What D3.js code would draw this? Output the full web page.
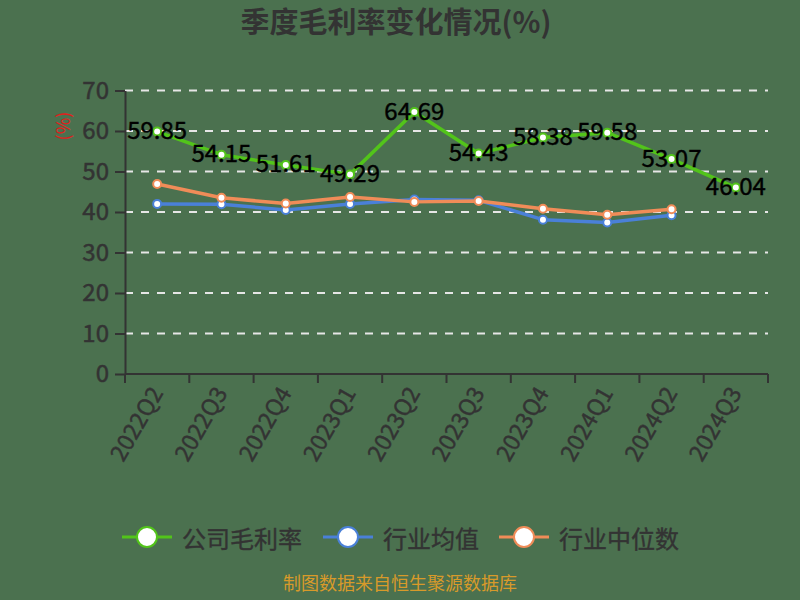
<!DOCTYPE html>
<html>
<head>
<meta charset="utf-8">
<script src="https://cdn.jsdelivr.net/npm/d3@7"></script>
<style>
  body { margin: 0; background: #4b714f; }
  svg { display: block; }
</style>
</head>
<body>
<svg width="800" height="600"></svg>
<script>
let quarters = ["2022Q2", "2022Q3", "2022Q4", "2023Q1", "2023Q2", "2023Q3", "2023Q4", "2024Q1", "2024Q2", "2024Q3"];
let company_margin = [59.85, 54.15, 51.61, 49.29, 64.69, 54.43, 58.38, 59.58, 53.07, 46.04];
let industry_mean = [42.0, 41.9, 40.5, 42.0, 43.1, 42.9, 38.1, 37.4, 39.2];
let industry_median = [46.9, 43.5, 42.1, 43.7, 42.5, 42.7, 40.8, 39.3, 40.7];
let y_ticks = [0, 10, 20, 30, 40, 50, 60, 70];
let series_names = ["公司毛利率", "行业均值", "行业中位数"];
let series_colors = ["#52c41a", "#4a80d8", "#f08c58"];

var svg = d3.select("svg");
var font = "'Noto Sans CJK SC', 'Noto Sans', sans-serif";

svg.append("rect")
  .attr("width", 800).attr("height", 600)
  .attr("fill", "#4b714f");

var x_axis = d3.scaleBand().domain(quarters).range([125, 768]);
var y_axis = d3.scaleLinear().domain([0, 70]).range([374, 90.5]);

// title
svg.append("text")
  .attr("x", 396).attr("y", 33)
  .attr("text-anchor", "middle")
  .attr("font-family", font)
  .attr("font-size", "29px")
  .attr("font-weight", "bold")
  .attr("fill", "#333")
  .text("季度毛利率变化情况(%)");

// grid lines
svg.append("g")
  .selectAll("line")
  .data(y_ticks.filter(d => d > 0))
  .enter().append("line")
    .attr("x1", 125).attr("x2", 768)
    .attr("y1", d => y_axis(d)).attr("y2", d => y_axis(d))
    .attr("stroke", "#e6e6e6")
    .attr("stroke-width", 2)
    .attr("stroke-dasharray", "8,8");

// y axis
var gy = svg.append("g")
  .attr("transform", "translate(125,0)")
  .call(d3.axisLeft(y_axis).tickValues(y_ticks).tickSize(10).tickPadding(6).tickSizeOuter(0));
gy.select(".domain").attr("stroke", "#333").attr("stroke-width", 2);
gy.selectAll(".tick line").attr("stroke", "#333").attr("stroke-width", 2);
gy.selectAll(".tick text")
  .attr("font-family", font)
  .attr("font-size", "24px")
  .attr("fill", "#333")
  .attr("stroke", "#333")
  .attr("stroke-width", 0.5);

// unit label
svg.append("text")
  .attr("transform", "translate(62,126) rotate(-90)")
  .attr("text-anchor", "middle")
  .attr("dominant-baseline", "central")
  .attr("font-family", font)
  .attr("font-size", "18px")
  .attr("fill", "#e0201c")
  .text("(%)");

// x axis
var gx = svg.append("g")
  .attr("transform", "translate(0,374)");
gx.append("line")
  .attr("x1", 125).attr("x2", 768)
  .attr("stroke", "#333").attr("stroke-width", 2);
gx.selectAll(".xtick")
  .data(quarters.concat(["end"]))
  .enter().append("line")
    .attr("x1", (d, i) => i < quarters.length ? x_axis(d) : x_axis.range()[1])
    .attr("x2", (d, i) => i < quarters.length ? x_axis(d) : x_axis.range()[1])
    .attr("y1", 0).attr("y2", 9)
    .attr("stroke", "#333").attr("stroke-width", 2);
gx.selectAll(".xlabel")
  .data(quarters)
  .enter().append("text")
    .attr("transform", d => "translate(" + (x_axis(d) + x_axis.bandwidth() / 2 - 2) + ",14) rotate(-60)")
    .attr("text-anchor", "end")
    .attr("dominant-baseline", "central")
    .attr("font-family", font)
    .attr("font-size", "23px")
    .attr("fill", "#333")
    .attr("stroke", "#333")
    .attr("stroke-width", 0.4)
    .text(d => d);

function cx(i) { return x_axis(quarters[i]) + x_axis.bandwidth() / 2; }

var line = d3.line()
  .x((d, i) => cx(i))
  .y(d => y_axis(d));

function draw_series(values, color) {
  svg.append("path")
    .datum(values)
    .attr("d", line)
    .attr("fill", "none")
    .attr("stroke", color)
    .attr("stroke-width", 3.5)
    .attr("stroke-linejoin", "round");
  svg.append("g")
    .selectAll("circle")
    .data(values)
    .enter().append("circle")
      .attr("cx", (d, i) => cx(i))
      .attr("cy", d => y_axis(d))
      .attr("r", 4)
      .attr("fill", "#fff")
      .attr("stroke", color)
      .attr("stroke-width", 2);
}

draw_series(industry_mean, series_colors[1]);
draw_series(industry_median, series_colors[2]);
draw_series(company_margin, series_colors[0]);

// value labels
svg.append("g")
  .selectAll("text")
  .data(company_margin)
  .enter().append("text")
    .attr("x", (d, i) => cx(i))
    .attr("y", d => y_axis(d) - 3)
    .attr("text-anchor", "middle")
    .attr("dominant-baseline", "central")
    .attr("font-family", font)
    .attr("font-size", "24px")
    .attr("fill", "#000")
    .attr("stroke", "#000")
    .attr("stroke-width", 0.4)
    .text(d => d.toFixed(2));

// legend
let legend_x = [122, 323, 499];
var legend = svg.append("g").attr("transform", "translate(0,537)");
series_names.forEach(function(name, i) {
  var g = legend.append("g").attr("transform", "translate(" + legend_x[i] + ",0)");
  g.append("line")
    .attr("x1", 0).attr("x2", 50)
    .attr("stroke", series_colors[i]).attr("stroke-width", 3);
  g.append("circle")
    .attr("cx", 25).attr("r", 10)
    .attr("fill", "#fff")
    .attr("stroke", series_colors[i]).attr("stroke-width", 2);
  g.append("text")
    .attr("x", 60)
    .attr("dominant-baseline", "central")
    .attr("font-family", font)
    .attr("font-size", "24px")
    .attr("fill", "#333")
    .attr("stroke", "#333")
    .attr("stroke-width", 0.4)
    .text(name);
});

// source note
svg.append("text")
  .attr("x", 400).attr("y", 590)
  .attr("text-anchor", "middle")
  .attr("font-family", font)
  .attr("font-size", "18px")
  .attr("fill", "#d89a2a")
  .text("制图数据来自恒生聚源数据库");
</script>
</body>
</html>
